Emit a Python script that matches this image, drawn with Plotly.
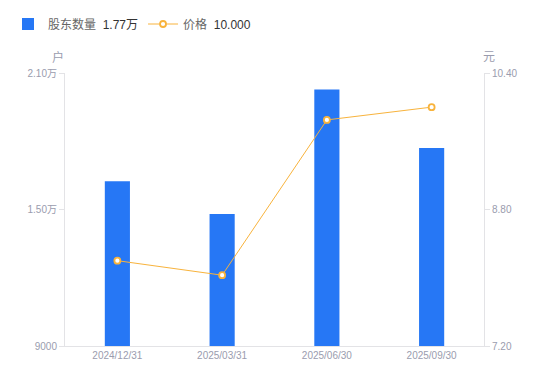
import plotly.graph_objects as go

categories = ["2024/12/31", "2025/03/31", "2025/06/30", "2025/09/30"]
holders = [16240, 14800, 20270, 17700]
prices = [8.20, 8.03, 9.85, 10.00]

left_ticks = [9000, 15000, 21000]
left_labels = ["9000", "1.50万", "2.10万"]
right_ticks = [7.20, 8.80, 10.40]
right_labels = ["7.20", "8.80", "10.40"]

BLUE = "#2677F5"
ORANGE = "#F8B33C"
GRAY = "#9a9cae"
AXIS = "#e3e3e6"
FONT = "Liberation Sans, Noto Sans CJK SC, sans-serif"

fig = go.Figure()
fig.add_trace(go.Bar(
    x=categories, y=holders, name="股东数量  <span style='color:#333333'>1.77万</span>",
    marker=dict(color=BLUE, line=dict(width=0)), width=0.24, yaxis="y",
))
fig.add_trace(go.Scatter(
    x=categories, y=prices, name="价格  <span style='color:#333333'>10.000</span>",
    mode="lines+markers", yaxis="y2",
    line=dict(color=ORANGE, width=1),
    marker=dict(size=6, color="white", line=dict(color=ORANGE, width=1.8)),
))

# the page body has an 8px offset; margins compensate so the plot area lands in place
fig.update_layout(
    width=550, height=381,
    margin=dict(l=57, r=74, t=65, b=43),
    paper_bgcolor="white", plot_bgcolor="white",
    font=dict(family=FONT, size=11, color=GRAY),
    showlegend=True,
    legend=dict(orientation="h", x=-0.045, y=0.958, xref="container", yref="container",
                xanchor="left", yanchor="middle",
                font=dict(size=12, color="#666666"), itemwidth=30,
                traceorder="normal"),
    bargap=0.76,
    xaxis=dict(type="category", showgrid=False, showline=True, linecolor=AXIS, linewidth=1,
               ticks="", tickfont=dict(size=10, color=GRAY), zeroline=False, automargin=False),
    yaxis=dict(range=[9000, 21000], tickvals=left_ticks, ticktext=left_labels,
               showgrid=False, showline=True, linecolor=AXIS, linewidth=1,
               ticks="outside", ticklen=5, tickcolor=AXIS, zeroline=False, automargin=False,
               tickfont=dict(size=10, color=GRAY)),
    yaxis2=dict(range=[7.20, 10.40], tickvals=right_ticks, ticktext=right_labels,
                overlaying="y", side="right", showgrid=False, showline=True,
                linecolor=AXIS, linewidth=1, ticks="outside", ticklen=5, tickcolor=AXIS,
                zeroline=False, automargin=False, tickfont=dict(size=10, color=GRAY)),
    annotations=[
        dict(text="户", xref="paper", yref="paper", x=0, y=1, xshift=-7, yshift=16,
             xanchor="center", yanchor="middle",
             showarrow=False, font=dict(size=12, color=GRAY)),
        dict(text="元", xref="paper", yref="paper", x=1, y=1, xshift=5, yshift=16,
             xanchor="center", yanchor="middle",
             showarrow=False, font=dict(size=12, color=GRAY)),
    ],
)

fig.write_html("out.html")
